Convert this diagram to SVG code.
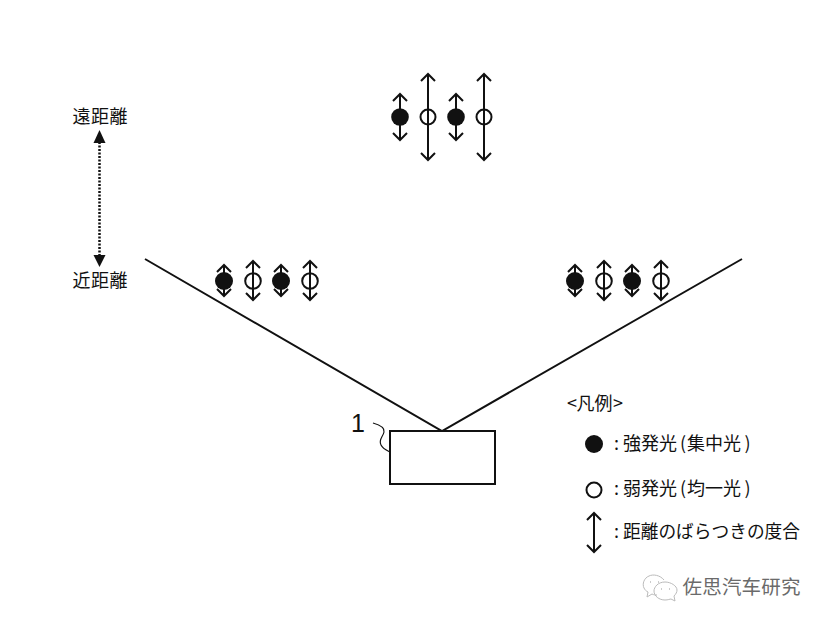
<svg xmlns="http://www.w3.org/2000/svg" width="827" height="622" viewBox="0 0 827 622">
<style>
text{font-family:"Noto Sans CJK JP","Noto Sans",sans-serif;fill:#111;font-size:18px}
.s{fill:#111}
.o{fill:none;stroke:#111;stroke-width:2}
.a{fill:none;stroke:#111;stroke-width:2}
.h{fill:none;stroke:#111;stroke-width:2}
.line{fill:none;stroke:#111;stroke-width:2}
</style>
<defs>
<path id="up" class="h" d="M-7 7L0 0L7 7"/>
<path id="dn" class="h" d="M-7 -7L0 0L7 -7"/>
</defs>
<rect width="827" height="622" fill="#fff"/>
<g id="connectors">
<path class="line" d="M145 259L442 431L742 259"/>
<path d="M99.500 142V256" fill="none" stroke="#111" stroke-width="2.500" stroke-dasharray="2 1.500"/>
<path class="s" d="M99.500 130L105.500 143H93.500Z"/>
<path class="s" d="M99.500 267L93.500 255H105.500Z"/>
<path d="M373 423C380 425 385 428 384 432C383 437 378 440 381 445C383 449 386 450 390 452" fill="none" stroke="#111" stroke-width="1.200"/>
</g>
<g id="far-group">
<path class="a" d="M400 95V139M428 75V159M456 95V139M484 75V159"/>
<use href="#up" x="400" y="94"/><use href="#dn" x="400" y="140"/>
<use href="#up" x="428" y="74"/><use href="#dn" x="428" y="160"/>
<use href="#up" x="456" y="94"/><use href="#dn" x="456" y="140"/>
<use href="#up" x="484" y="74"/><use href="#dn" x="484" y="160"/>
<circle class="s" cx="400" cy="117" r="8.800"/><circle class="o" cx="428" cy="117" r="7.500"/>
<circle class="s" cx="456" cy="117" r="8.800"/><circle class="o" cx="484" cy="117" r="7.500"/>
</g>
<g id="near-left-group">
<path class="a" d="M224 266V295M253 262V299M281 266V295M310 262V299"/>
<use href="#up" x="224" y="265"/><use href="#dn" x="224" y="296"/>
<use href="#up" x="253" y="261"/><use href="#dn" x="253" y="300"/>
<use href="#up" x="281" y="265"/><use href="#dn" x="281" y="296"/>
<use href="#up" x="310" y="261"/><use href="#dn" x="310" y="300"/>
<circle class="s" cx="224" cy="281" r="9"/><circle class="o" cx="253" cy="281" r="7.800"/>
<circle class="s" cx="281" cy="281" r="9"/><circle class="o" cx="310" cy="281" r="7.800"/>
</g>
<g id="near-right-group">
<path class="a" d="M575 266V295M604 262V299M632 266V295M661 262V299"/>
<use href="#up" x="575" y="265"/><use href="#dn" x="575" y="296"/>
<use href="#up" x="604" y="261"/><use href="#dn" x="604" y="300"/>
<use href="#up" x="632" y="265"/><use href="#dn" x="632" y="296"/>
<use href="#up" x="661" y="261"/><use href="#dn" x="661" y="300"/>
<circle class="s" cx="575" cy="281" r="9"/><circle class="o" cx="604" cy="281" r="7.800"/>
<circle class="s" cx="632" cy="281" r="9"/><circle class="o" cx="661" cy="281" r="7.800"/>
</g>
<g id="labels-distance">
<text x="72.500" y="123" textLength="55">遠距離</text>
<text x="72.500" y="287" textLength="55">近距離</text>
</g>
<g id="node-1">
<rect x="390" y="431" width="105" height="53" fill="#fff" stroke="#111" stroke-width="2"/>
<text x="351" y="432" style="font-family:'Liberation Sans',sans-serif;font-size:25px">1</text>
</g>
<g id="legend">
<text y="410"><tspan x="567">&lt;</tspan><tspan x="576.500">凡例</tspan><tspan x="613">&gt;</tspan></text>
<circle class="s" cx="594" cy="444" r="9"/>
<text y="450"><tspan x="614">:</tspan><tspan x="623">強発光</tspan><tspan x="680">(</tspan><tspan x="687">集中光</tspan><tspan x="744.500">)</tspan></text>
<circle class="o" cx="594" cy="490" r="7.500"/>
<text y="495"><tspan x="614">:</tspan><tspan x="623">弱発光</tspan><tspan x="680">(</tspan><tspan x="687">均一光</tspan><tspan x="744.500">)</tspan></text>
<path class="a" d="M594 514V551" stroke-width="1.800"/>
<use href="#up" x="594" y="513"/><use href="#dn" x="594" y="552"/>
<text y="538"><tspan x="614">:</tspan><tspan x="623" textLength="177" style="font-size:17.700px">距離のばらつきの度合</tspan></text>
</g>
<g id="watermark" fill="none" stroke="#bbb" stroke-width="1">
<path d="M664 580C660 575 653 574 649 576C644 578 642 584 644 588C645 590 646 591 648 592L647 597L652 594C654 595 655 595 657 595"/>
<path d="M665 582C658 582 654 587 654 591C654 596 659 600 665 600C668 600 670 599 671 599L675 601L674 596C676 594 677 592 677 590C677 586 671 582 665 582Z"/>
<path d="M650 582h1M658 582h1M661 589h1M669 589h1" stroke="#999"/>
<text x="682.500" y="594" textLength="118" style="fill:#6a6a6a;stroke:none;font-size:19.500px;font-family:'Noto Sans CJK SC',sans-serif">佐思汽车研究</text>
</g>
</svg>
